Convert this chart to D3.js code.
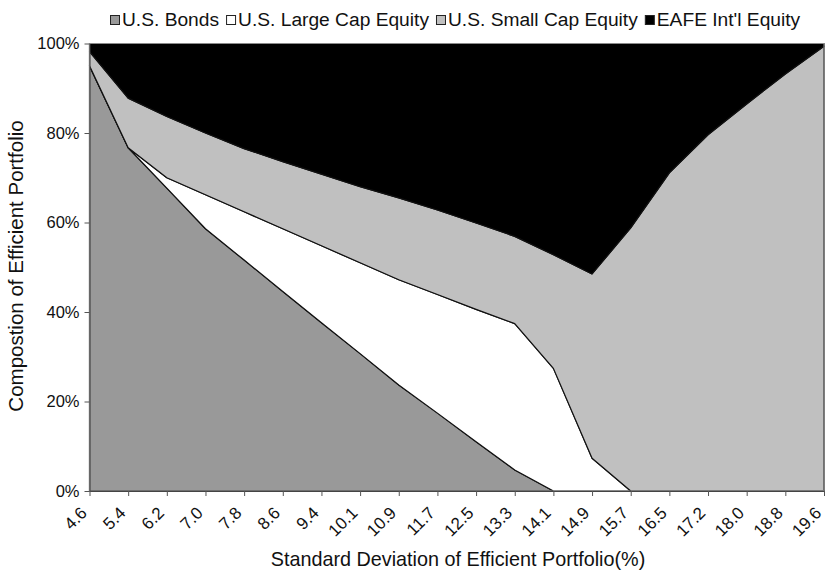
<!DOCTYPE html>
<html>
<head>
<meta charset="utf-8">
<script src="https://cdn.jsdelivr.net/npm/d3@7"></script>
<style>
  html, body { margin: 0; padding: 0; background: #fff; }
  svg { display: block; }
  text { font-family: "Liberation Sans", Arial, Helvetica, sans-serif; fill: #111; }
</style>
</head>
<body>
<svg id="chart" width="825" height="579"></svg>
<script>
const categories = ["4.6","5.4","6.2","7.0","7.8","8.6","9.4","10.1","10.9","11.7","12.5","13.3","14.1","14.9","15.7","16.5","17.2","18.0","18.8","19.6"];
const bonds    = [95.0, 76.7, 67.7, 58.6, 51.6, 44.6, 37.6, 30.7, 23.7, 17.4, 11.0, 4.7, 0, 0, 0, 0, 0, 0, 0, 0];
const largeCap = [0, 0, 2.3, 7.6, 10.8, 14.0, 17.2, 20.3, 23.5, 26.5, 29.6, 32.7, 27.4, 7.3, 0, 0, 0, 0, 0, 0];
const smallCap = [3.2, 11.1, 13.7, 13.8, 14.1, 15.0, 16.0, 17.0, 18.3, 18.9, 19.3, 19.5, 25.4, 41.2, 58.8, 71.1, 79.6, 86.5, 93.2, 99.4];
const eafe     = [1.8, 12.2, 16.3, 20.0, 23.5, 26.4, 29.2, 32.0, 34.5, 37.2, 40.1, 43.1, 47.2, 51.5, 41.2, 28.9, 20.4, 13.5, 6.8, 0.6];
const seriesNames = ["U.S. Bonds", "U.S. Large Cap Equity", "U.S. Small Cap Equity", "EAFE Int'l Equity"];
const yTicks = [0, 20, 40, 60, 80, 100];
const xTitle = "Standard Deviation of Efficient Portfolio(%)";
const yTitle = "Compostion of Efficient Portfolio";

const colors = ["#999999", "#ffffff", "#c0c0c0", "#000000"];
const keys = ["bonds", "large", "small", "eafe"];

const table = categories.map((c, i) => ({
  cat: c, bonds: bonds[i], large: largeCap[i], small: smallCap[i], eafe: eafe[i]
}));

const svg = d3.select("#chart");
const mLeft = 89.5, mRight = 824, mTop = 43.5, mBottom = 491;

const x = d3.scalePoint().domain(categories).range([mLeft, mRight]);
const y = d3.scaleLinear().domain([0, 100]).range([mBottom, mTop]);

const stacked = d3.stack().keys(keys)(table);

const area = d3.area()
  .x(d => x(d.data.cat))
  .y0(d => y(d[0]))
  .y1(d => y(d[1]));

svg.append("g").selectAll("path")
  .data(stacked)
  .join("path")
  .attr("d", area)
  .attr("fill", (d, i) => colors[i])
  .attr("stroke", "#111")
  .attr("stroke-width", 1.2)
  .attr("stroke-linejoin", "round");

// plot border
svg.append("rect")
  .attr("x", mLeft).attr("y", mTop)
  .attr("width", mRight - mLeft).attr("height", mBottom - mTop)
  .attr("fill", "none").attr("stroke", "#8a8a8a").attr("stroke-width", 1);

// Y axis
const yAxis = d3.axisLeft(y).tickValues(yTicks).tickFormat(d => d + "%").tickSize(5).tickSizeOuter(0);
const gy = svg.append("g").attr("transform", `translate(${mLeft},0)`).call(yAxis);
gy.select(".domain").attr("stroke", "#444");
gy.selectAll(".tick line").attr("stroke", "#555");
gy.selectAll(".tick text")
  .attr("x", -10)
  .style("font-size", "16.5px")
  .style("font-family", '"Liberation Sans", Arial, sans-serif')
  .attr("fill", "#111");

// X axis
const xAxis = d3.axisBottom(x).tickSize(5).tickSizeOuter(0);
const gx = svg.append("g").attr("transform", `translate(0,${mBottom})`).call(xAxis);
gx.select(".domain").attr("stroke", "#444");
gx.selectAll(".tick line").attr("stroke", "#555");
gx.selectAll(".tick text")
  .attr("text-anchor", "end")
  .attr("dy", null)
  .attr("y", 0)
  .attr("transform", "translate(-2,23) rotate(-45)")
  .style("font-size", "17px")
  .style("font-family", '"Liberation Sans", Arial, sans-serif')
  .attr("fill", "#111");

// Axis titles
svg.append("text")
  .attr("x", 458).attr("y", 566)
  .attr("text-anchor", "middle")
  .style("font-size", "19.8px")
  .text(xTitle);

svg.append("text")
  .attr("transform", "translate(23,266) rotate(-90)")
  .attr("text-anchor", "middle")
  .style("font-size", "20.5px")
  .text(yTitle);

// Legend
const lg = svg.append("g");
let lx = 110;
seriesNames.forEach((name, i) => {
  lg.append("rect")
    .attr("x", lx + 0.5).attr("y", 15.5)
    .attr("width", 9).attr("height", 9)
    .attr("fill", colors[i]).attr("stroke", "#222").attr("stroke-width", 1);
  const t = lg.append("text")
    .attr("x", lx + 12).attr("y", 26)
    .style("font-size", "19.2px")
    .text(name);
  const w = t.node().getComputedTextLength();
  lx += 12 + w + 7;
});
</script>
</body>
</html>
